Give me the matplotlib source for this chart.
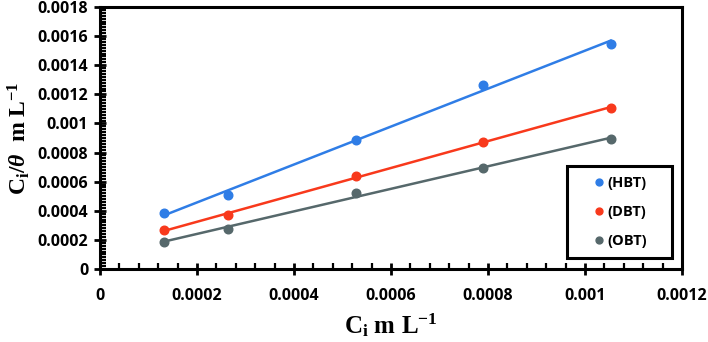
import matplotlib
matplotlib.use("Agg")
import matplotlib.pyplot as plt
from matplotlib.ticker import MultipleLocator
from matplotlib.patches import Rectangle
import numpy as np

# concentrations (m L^-1)
ci = [0.000132, 0.000264, 0.000528, 0.000789, 0.001053]
hbt = [0.000383, 0.000510, 0.000886, 0.001264, 0.001545]
dbt = [0.000266, 0.000369, 0.000641, 0.000870, 0.001108]
obt = [0.000185, 0.000277, 0.000524, 0.000692, 0.000895]
names = ["(HBT)", "(DBT)", "(OBT)"]
colors = ["#2f7de6", "#f8391c", "#56686b"]

xticks = [0, 0.0002, 0.0004, 0.0006, 0.0008, 0.001, 0.0012]
xticklabels = ["0", "0.0002", "0.0004", "0.0006", "0.0008", "0.001", "0.0012"]
yticks = [0, 0.0002, 0.0004, 0.0006, 0.0008, 0.001, 0.0012, 0.0014, 0.0016, 0.0018]
yticklabels = ["0", "0.0002", "0.0004", "0.0006", "0.0008", "0.001", "0.0012",
               "0.0014", "0.0016", "0.0018"]

plt.rcParams["mathtext.fontset"] = "custom"
plt.rcParams["mathtext.rm"] = "Liberation Serif:bold"
plt.rcParams["mathtext.bf"] = "Liberation Serif:bold"
plt.rcParams["mathtext.it"] = "Liberation Serif:italic:bold"

W, H = 708, 342
fig = plt.figure(figsize=(W/100, H/100), dpi=100)
ax = fig.add_axes([100/W, 1 - 269/H, 582/W, 262/H])

x = np.array(ci)
for ys, name, c in zip([hbt, dbt, obt], names, colors):
    ax.plot(x, ys, "o", color=c, ms=6.2, label=name, zorder=3)
    k, b = np.polyfit(x, ys, 1)
    ax.plot(x, k * x + b, "-", color=c, lw=1.8, zorder=2)

ax.set_xlim(0, 0.0012)
ax.set_ylim(0, 0.0018)
ax.set_xticks(xticks)
ax.set_xticklabels(xticklabels)
ax.set_yticks(yticks)
ax.set_yticklabels(yticklabels)
ax.xaxis.set_minor_locator(MultipleLocator(0.00004))
ax.yaxis.set_minor_locator(MultipleLocator(0.00002))

for s in ax.spines.values():
    s.set_linewidth(2.2)
ax.tick_params(which="major", direction="inout", length=9, width=2)
ax.tick_params(which="minor", direction="in", length=4, width=1.6)
ax.tick_params(axis="x", pad=9)
ax.tick_params(axis="y", pad=4)
for lab in ax.get_xticklabels() + ax.get_yticklabels():
    lab.set_fontfamily("Open Sans")
    lab.set_fontweight("bold")
    lab.set_fontsize(11.5)

ax.set_xlabel(r"$\mathrm{C_i}$ m L$^{\mathrm{-1}}$", family="Liberation Serif",
              fontweight="bold", fontsize=18, labelpad=5)
ax.set_ylabel(r"$\mathrm{C_i}/\mathit{\theta}$  m L$^{\mathrm{-1}}$", family="Liberation Serif",
              fontweight="bold", fontsize=17, labelpad=4)

# legend box drawn separately (wide horizontal padding)
x0, y0, x1, y1 = 567, 166, 672, 258
ax.add_patch(Rectangle((x0/W, 1 - y1/H), (x1-x0)/W, (y1-y0)/H,
                       transform=fig.transFigure, facecolor="white",
                       edgecolor="black", lw=2.2, zorder=5, clip_on=False))
leg = ax.legend(loc="center", bbox_to_anchor=((x0+x1)/2/W, 1 - (y0+y1)/2/H),
                bbox_transform=fig.transFigure, frameon=False,
                handletextpad=0.1, labelspacing=1.05, borderpad=0.0,
                handlelength=1.0, markerscale=0.8,
                prop={"family": "Open Sans", "weight": "bold", "size": 10.5})
leg.set_zorder(6)

fig.savefig("out.png", dpi=100)
